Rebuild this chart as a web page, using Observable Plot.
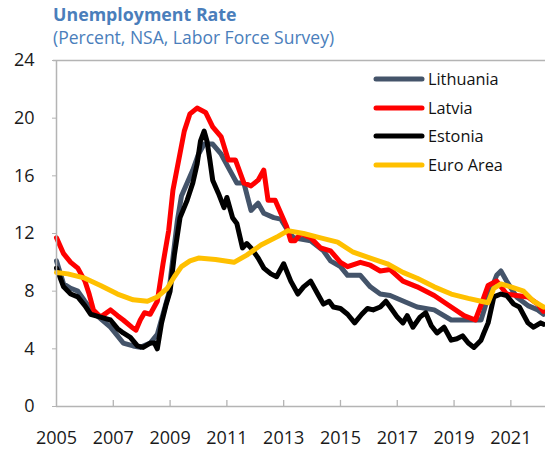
<!DOCTYPE html>
<html>
<head>
<meta charset="utf-8">
<script src="https://cdn.jsdelivr.net/npm/d3@7"></script>
<script src="https://cdn.jsdelivr.net/npm/@observablehq/plot@0.6"></script>
<style>
  body { margin: 0; background: #fff; }
  #wrap { position: relative; width: 545px; height: 449px; font-family: "Open Sans", sans-serif; overflow: hidden; background: #fff; }
  .title { position: absolute; left: 53px; top: 4px; font-size: 17.8px; line-height: 20px; font-weight: bold; color: #4a7ebb; white-space: nowrap; }
  .subtitle { position: absolute; left: 53px; top: 27px; font-size: 17.5px; line-height: 20px; color: #4a7ebb; white-space: nowrap; }
  #chart { position: absolute; left: 0; top: 40px; }
  .legend { position: absolute; left: 373px; top: 65px; }
  .legend .row { height: 28.5px; display: flex; align-items: center; font-size: 16.3px; color: #111; }
  .legend svg { margin-right: 3px; }
</style>
</head>
<body>
<div id="wrap">
  <div id="chart"></div>
  <div class="title">Unemployment Rate</div>
  <div class="subtitle">(Percent, NSA, Labor Force Survey)</div>
  <div class="legend" id="legend"></div>
</div>
<script>
const seriesNames = ["Lithuania", "Latvia", "Estonia", "Euro Area"];
const seriesColors = ["#44546a", "#ff0000", "#000000", "#ffc000"];

const lithuaniaT = [2005.0, 2005.25, 2005.5, 2005.75, 2006.0, 2006.3, 2006.55, 2006.9, 2007.15, 2007.35, 2007.7, 2007.95, 2008.3, 2008.55, 2008.75, 2008.95, 2009.1, 2009.25, 2009.4, 2009.6, 2009.8, 2010.0, 2010.2, 2010.5, 2010.8, 2011.1, 2011.35, 2011.6, 2011.85, 2012.1, 2012.3, 2012.65, 2012.9, 2013.15, 2013.35, 2013.95, 2014.4, 2014.65, 2015.0, 2015.25, 2015.7, 2016.05, 2016.4, 2016.75, 2017.1, 2017.7, 2018.3, 2018.9, 2019.5, 2019.95, 2020.2, 2020.5, 2020.65, 2020.85, 2021.2, 2021.6, 2021.95, 2022.15];
const lithuaniaV = [10.1, 8.5, 8.2, 8.0, 7.3, 6.5, 6.1, 5.5, 4.9, 4.4, 4.2, 4.1, 4.4, 5.0, 6.4, 7.8, 10.3, 12.8, 14.6, 15.5, 16.4, 17.5, 18.2, 18.2, 17.5, 16.4, 15.5, 15.5, 13.6, 14.1, 13.4, 13.1, 13.0, 12.2, 11.7, 11.5, 10.8, 10.1, 9.7, 9.1, 9.1, 8.3, 7.8, 7.7, 7.4, 6.9, 6.7, 6.0, 6.0, 6.0, 7.6, 9.1, 9.4, 8.7, 7.6, 7.0, 6.7, 6.4];

const latviaT = [2005.0, 2005.25, 2005.5, 2005.75, 2006.0, 2006.15, 2006.3, 2006.55, 2006.9, 2007.15, 2007.35, 2007.65, 2007.8, 2007.95, 2008.1, 2008.3, 2008.55, 2008.75, 2008.95, 2009.1, 2009.5, 2009.7, 2009.95, 2010.25, 2010.5, 2010.8, 2011.05, 2011.3, 2011.6, 2011.85, 2012.1, 2012.3, 2012.45, 2012.7, 2012.9, 2013.1, 2013.25, 2013.4, 2013.6, 2013.95, 2014.3, 2014.65, 2015.0, 2015.25, 2015.7, 2016.05, 2016.4, 2016.75, 2017.2, 2017.7, 2018.3, 2018.9, 2019.35, 2019.75, 2020.0, 2020.2, 2020.5, 2020.85, 2021.2, 2021.6, 2021.95, 2022.15];
const latviaV = [11.7, 10.6, 10.0, 9.6, 8.7, 7.8, 6.7, 6.2, 6.7, 6.3, 6.0, 5.5, 5.3, 6.0, 6.5, 6.4, 7.3, 9.9, 12.2, 15.0, 19.1, 20.3, 20.7, 20.4, 19.4, 18.7, 17.1, 17.1, 15.5, 15.3, 15.7, 16.4, 14.3, 14.3, 13.4, 12.5, 11.5, 11.5, 12.0, 11.7, 11.0, 10.8, 10.0, 9.7, 10.0, 9.8, 9.4, 9.5, 8.7, 8.3, 7.7, 6.9, 6.3, 6.0, 7.3, 8.4, 8.7, 7.8, 7.7, 7.6, 7.1, 6.6];

const estoniaT = [2005.0, 2005.25, 2005.5, 2005.75, 2006.0, 2006.2, 2006.55, 2006.9, 2007.15, 2007.35, 2007.6, 2007.85, 2008.05, 2008.3, 2008.45, 2008.55, 2008.7, 2008.85, 2009.0, 2009.15, 2009.35, 2009.6, 2009.8, 2009.95, 2010.07, 2010.2, 2010.3, 2010.4, 2010.5, 2010.7, 2010.9, 2011.0, 2011.2, 2011.35, 2011.55, 2011.7, 2011.85, 2012.1, 2012.3, 2012.55, 2012.75, 2013.0, 2013.25, 2013.5, 2013.7, 2013.95, 2014.2, 2014.4, 2014.6, 2014.75, 2015.0, 2015.25, 2015.5, 2015.75, 2015.95, 2016.15, 2016.4, 2016.6, 2016.75, 2017.0, 2017.2, 2017.35, 2017.55, 2017.8, 2018.0, 2018.2, 2018.4, 2018.65, 2018.9, 2019.1, 2019.3, 2019.5, 2019.7, 2019.95, 2020.05, 2020.2, 2020.4, 2020.65, 2020.85, 2021.1, 2021.3, 2021.6, 2021.8, 2022.05, 2022.15];
const estoniaV = [9.6, 8.3, 7.8, 7.6, 7.0, 6.4, 6.2, 6.0, 5.4, 5.1, 4.8, 4.2, 4.1, 4.4, 4.4, 4.0, 5.8, 7.0, 8.0, 10.5, 13.1, 14.3, 15.5, 16.8, 18.4, 19.1, 18.4, 17.1, 15.7, 14.8, 13.8, 14.5, 13.1, 12.7, 11.0, 11.3, 11.0, 10.3, 9.6, 9.2, 9.0, 9.9, 8.7, 7.8, 8.3, 8.7, 7.8, 7.1, 7.3, 6.9, 6.8, 6.4, 5.8, 6.4, 6.8, 6.7, 6.9, 7.3, 6.9, 6.2, 5.8, 6.3, 5.5, 6.2, 6.5, 5.6, 5.1, 5.5, 4.6, 4.7, 4.9, 4.4, 4.1, 4.6, 5.1, 5.8, 7.6, 7.8, 7.7, 7.1, 6.9, 5.8, 5.5, 5.8, 5.7];

const euroT = [2005.0, 2005.4, 2006.0, 2006.55, 2007.15, 2007.7, 2008.2, 2008.55, 2008.9, 2009.15, 2009.4, 2009.7, 2010.0, 2010.6, 2011.25, 2011.7, 2012.2, 2012.8, 2013.15, 2013.7, 2014.3, 2014.9, 2015.45, 2016.05, 2016.65, 2017.2, 2017.7, 2018.3, 2018.9, 2019.5, 2019.95, 2020.2, 2020.4, 2020.65, 2021.0, 2021.45, 2021.8, 2022.15];
const euroV = [9.3, 9.2, 8.9, 8.4, 7.8, 7.4, 7.3, 7.6, 8.2, 9.0, 9.7, 10.1, 10.3, 10.2, 10.0, 10.5, 11.2, 11.8, 12.2, 12.0, 11.7, 11.4, 10.7, 10.3, 9.9, 9.3, 8.9, 8.3, 7.8, 7.5, 7.3, 7.2, 8.2, 8.5, 8.3, 8.0, 7.3, 6.9];

const xTicks = [2005, 2007, 2009, 2011, 2013, 2015, 2017, 2019, 2021];
const yTicks = [0, 4, 8, 12, 16, 20, 24];

const seriesT = [lithuaniaT, latviaT, estoniaT, euroT];
const seriesV = [lithuaniaV, latviaV, estoniaV, euroV];
const data = seriesNames.flatMap((name, i) =>
  seriesT[i].map((t, j) => ({ name, t, v: seriesV[i][j] }))
);

const axisGray = "#b4b4b4";

const lineMarks = seriesNames.map((name, i) =>
  Plot.line(data.filter(d => d.name === name), {
    x: "t", y: "v", stroke: seriesColors[i], strokeWidth: 5,
    strokeLinejoin: "round", strokeLinecap: "round"
  })
);

const chart = Plot.plot({
  width: 545,
  height: 409,
  marginLeft: 56,
  marginRight: 0,
  marginTop: 20,
  marginBottom: 43,
  style: { fontFamily: "Open Sans, sans-serif", fontSize: "18px", color: "#1a1a1a", background: "transparent", overflow: "visible" },
  x: { domain: [2005, 2022.22] },
  y: { domain: [0, 24] },
  marks: [
    Plot.ruleY([24], { stroke: axisGray, strokeWidth: 1.3, inset: -3 }),
    Plot.ruleX(xTicks.slice(1), { x: d => d, y1: 0, y2: 0.42, stroke: axisGray, strokeWidth: 1.3 }),
    Plot.axisY({ ticks: yTicks, tickSize: 4, tickPadding: 18, stroke: axisGray, label: null, fontSize: 18 }),
    Plot.axisX({ ticks: xTicks, tickSize: 0, tickPadding: 25, tickFormat: d => String(d), label: null, fontSize: 18 }),
    ...lineMarks,
    Plot.ruleX([2005], { stroke: axisGray, strokeWidth: 1.5 }),
    Plot.ruleY([0], { stroke: axisGray, strokeWidth: 1.5 })
  ]
});
document.getElementById("chart").appendChild(chart);

const legend = document.getElementById("legend");
seriesNames.forEach((name, i) => {
  const row = document.createElement("div");
  row.className = "row";
  row.innerHTML = `<svg width="52" height="8"><line x1="3" y1="4" x2="49" y2="4" stroke="${seriesColors[i]}" stroke-width="5" stroke-linecap="round"/></svg><span>${name}</span>`;
  legend.appendChild(row);
});
</script>
</body>
</html>
